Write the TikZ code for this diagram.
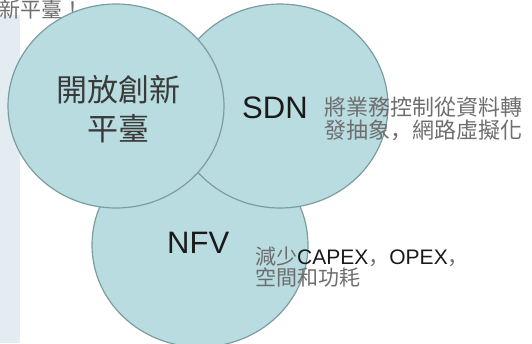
\documentclass[tikz,border=0pt]{standalone}
\usepackage{fontspec}
\setmainfont{Liberation Sans}
\newfontfamily\cjk{Noto Sans CJK TC}
\newfontfamily\cjkp{Noto Sans CJK SC}
\usetikzlibrary{shapes.geometric}
\definecolor{circfill}{HTML}{B8DCE0}
\definecolor{circline}{HTML}{7D9C9F}
\definecolor{stripcol}{HTML}{E3ECF0}
\definecolor{desccol}{HTML}{6E6E6E}
\definecolor{titlecol}{HTML}{3A3A3A}
\definecolor{labelcol}{HTML}{1A1A1A}
\tikzset{
  bubble/.style={ellipse, draw=circline, line width=1.2pt, fill=circfill,
    minimum width=216pt, minimum height=204pt, inner sep=0pt},
  desc/.style={anchor=north west, inner sep=0pt, align=left, text=desccol},
  biglabel/.style={text=labelcol, font=\fontsize{31pt}{31pt}\selectfont}
}
\begin{document}
\begin{tikzpicture}[x=1pt,y=-1pt]
\useasboundingbox (0,0) rectangle (532,343);
\fill[stripcol] (0,15) rectangle (20,343);
\node[anchor=base west, inner sep=0pt, text=desccol,
  font=\cjk\fontsize{21pt}{21pt}\selectfont] (toptext) at (-1,17.5) {新平臺！};
\node[bubble] (nfv) at (200,245) {};
\node[bubble] (sdn) at (280,106) {};
\node[bubble] (open) at (116,106) {};
\node[align=center, text=titlecol, inner sep=0pt,
  font=\cjk\fontsize{31pt}{39pt}\selectfont] (opentext) at (118,109) {開放創新\\平臺};
\node[biglabel, anchor=base west, inner sep=0pt] (sdnlabel) at (242,118) {SDN};
\node[biglabel, anchor=base west, inner sep=0pt] (nfvlabel) at (167,253) {NFV};
\node[desc, font=\cjk\fontsize{22pt}{23pt}\selectfont] (sdndesc) at (324,97)
  {將業務控制從資料轉\\發抽象{\cjkp ，}網路虛擬化};
\node[desc, font=\fontsize{21pt}{20.5pt}\selectfont] (nfvdesc) at (255,247)
  {{\cjk 減少}\textcolor{labelcol}{CAPEX}{\cjkp ，}\textcolor{labelcol}{OPEX}{\cjkp ，}\\{\cjk 空間和功耗}};
\end{tikzpicture}
\end{document}
